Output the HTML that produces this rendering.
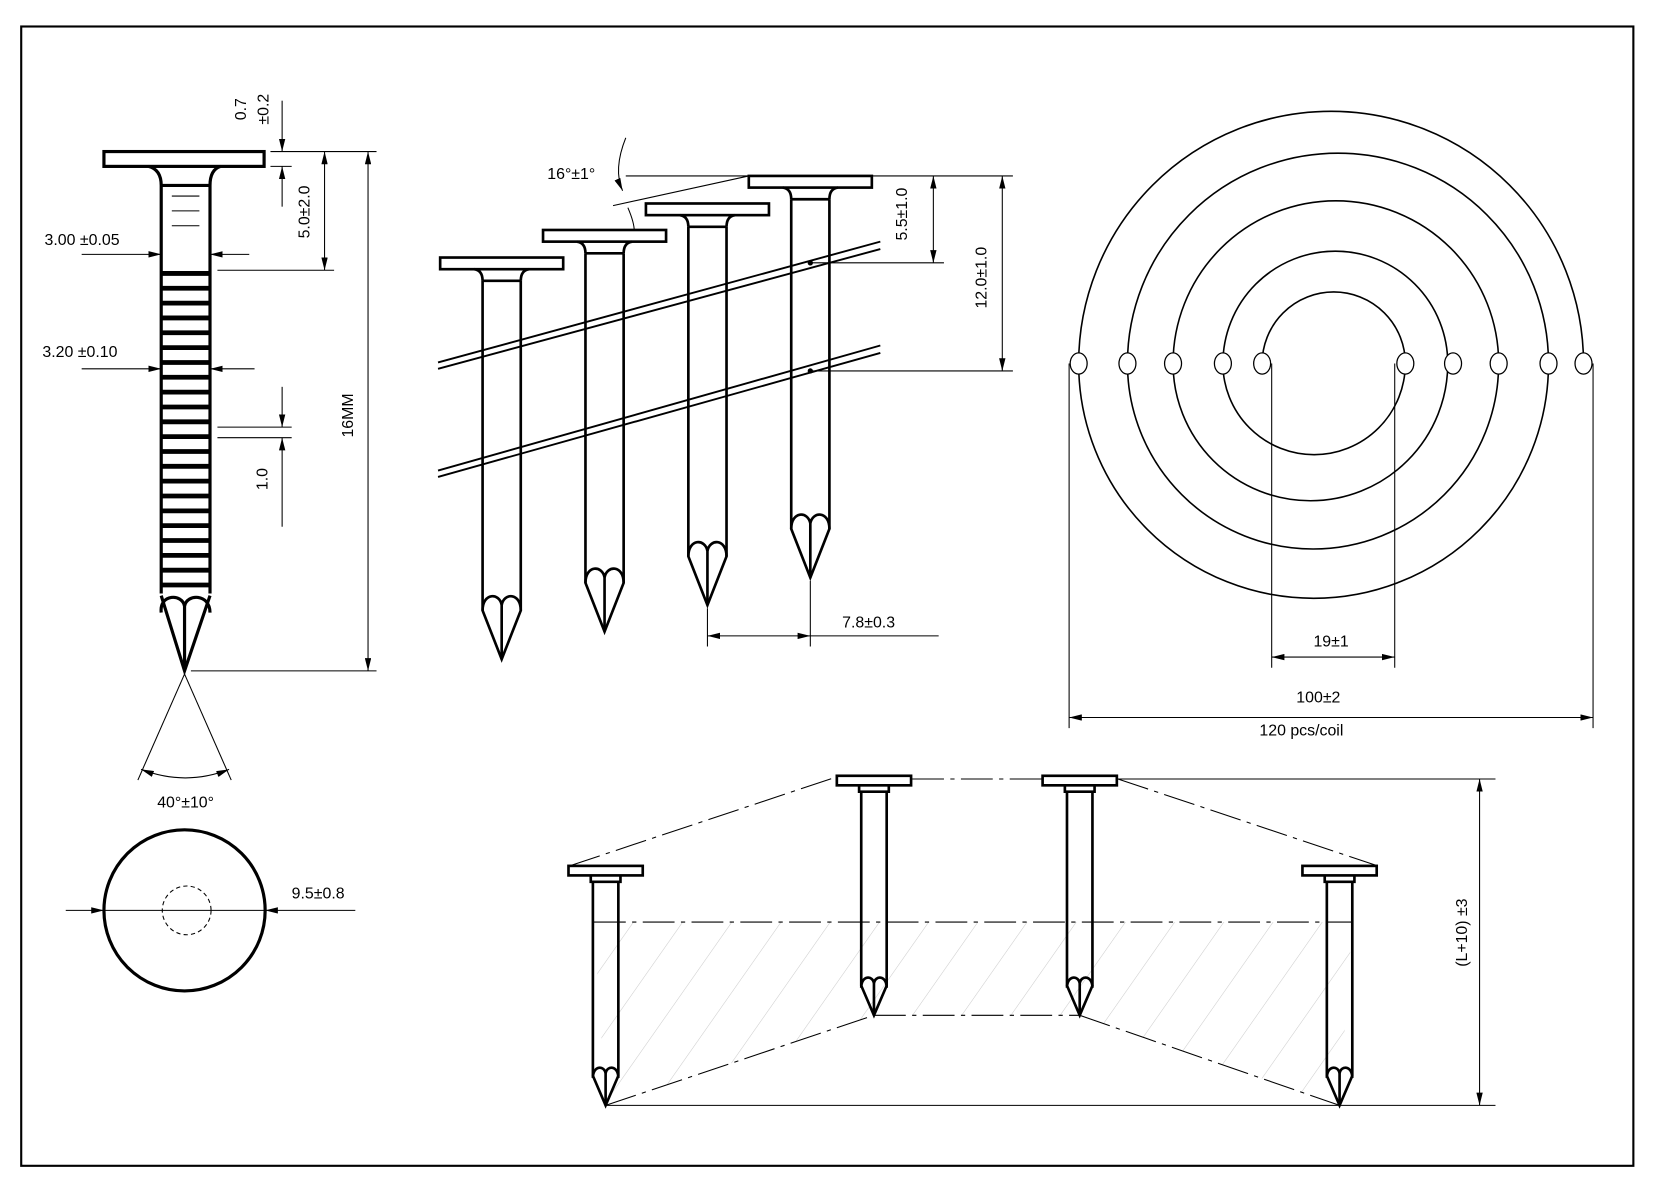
<!DOCTYPE html>
<html><head><meta charset="utf-8"><style>html,body{margin:0;padding:0;background:#fff}svg{display:block}text{font-family:"Liberation Sans",sans-serif;font-size:15px;fill:#000}</style></head><body>
<svg width="1662" height="1187" viewBox="0 0 1567 1120" preserveAspectRatio="none" xmlns="http://www.w3.org/2000/svg">
<defs>
<marker id="a" viewBox="0 0 12 6" refX="12" refY="3" markerWidth="12" markerHeight="6" markerUnits="userSpaceOnUse" orient="auto-start-reverse"><path d="M0,0L12,3L0,6z" fill="#000"/></marker>
<g id="mn" fill="none" stroke="#000" stroke-width="2.5">
<rect x="-58" y="0" width="116" height="11" fill="#fff"/>
<path d="M-26,11 Q-18,12 -18,22 M26,11 Q18,12 18,22 M-18,22 H18"/>
<path d="M-18,22 V333 L0,379 L18,333 V22"/>
<path d="M-18,333 C-18,316 -2,316 0,328 C2,316 18,316 18,333 M0,328 V379"/>
</g>
<g id="bn" fill="none" stroke="#000" stroke-width="2.5">
<rect x="-35" y="0" width="70" height="9" fill="#fff"/>
<path d="M-14,9 V15 H14 V9 M-12,15 V198 L0,226 L12,198 V15"/>
<path d="M-12,200 C-12,188 -1,188 0,196 C1,188 12,188 12,200 M0,196 V226"/>
</g>
<pattern id="h" width="38" height="38" patternUnits="userSpaceOnUse" patternTransform="rotate(35)"><line x1="0" y1="0" x2="0" y2="38" stroke="#ccc" stroke-width="1"/></pattern>
</defs>
<rect x="20" y="25" width="1520" height="1075" fill="none" stroke="#000" stroke-width="2"/>

<!-- left nail -->
<g fill="none" stroke="#000" stroke-width="3">
<rect x="98" y="143" width="151" height="14" fill="#fff"/>
<path d="M140,157 Q152,160 152,175 V560 M208,157 Q198,160 198,175 V560 M152,175 H198"/>
<path d="M152,562 L174,633 L198,562 M152,578 C150,560 172,560 174,572 C176,560 198,560 198,578 M174,572 V633"/>
</g>
<g stroke="#000" stroke-width="1"><line x1="162" y1="185" x2="188" y2="185"/><line x1="162" y1="199" x2="188" y2="199"/><line x1="162" y1="213" x2="188" y2="213"/></g>
<g stroke="#000" stroke-width="4.5">
<line x1="152" y1="258" x2="198" y2="258"/><line x1="152" y1="272" x2="198" y2="272"/><line x1="152" y1="286" x2="198" y2="286"/><line x1="152" y1="300" x2="198" y2="300"/><line x1="152" y1="314" x2="198" y2="314"/><line x1="152" y1="328" x2="198" y2="328"/><line x1="152" y1="342" x2="198" y2="342"/><line x1="152" y1="356" x2="198" y2="356"/><line x1="152" y1="370" x2="198" y2="370"/><line x1="152" y1="384" x2="198" y2="384"/><line x1="152" y1="398" x2="198" y2="398"/><line x1="152" y1="412" x2="198" y2="412"/><line x1="152" y1="426" x2="198" y2="426"/><line x1="152" y1="440" x2="198" y2="440"/><line x1="152" y1="454" x2="198" y2="454"/><line x1="152" y1="468" x2="198" y2="468"/><line x1="152" y1="482" x2="198" y2="482"/><line x1="152" y1="496" x2="198" y2="496"/><line x1="152" y1="510" x2="198" y2="510"/><line x1="152" y1="524" x2="198" y2="524"/><line x1="152" y1="538" x2="198" y2="538"/><line x1="152" y1="552" x2="198" y2="552"/>
</g>
<g fill="none" stroke="#000" stroke-width="1">
<line x1="255" y1="143" x2="355" y2="143"/><line x1="180" y1="633" x2="355" y2="633"/>
<line x1="347" y1="143" x2="347" y2="633" marker-start="url(#a)" marker-end="url(#a)"/>
<line x1="205" y1="255" x2="315" y2="255"/>
<line x1="306" y1="143" x2="306" y2="255" marker-start="url(#a)" marker-end="url(#a)"/>
<line x1="255" y1="157" x2="275" y2="157"/>
<line x1="266" y1="95" x2="266" y2="143" marker-end="url(#a)"/><line x1="266" y1="195" x2="266" y2="157" marker-end="url(#a)"/>
<line x1="77" y1="240" x2="152" y2="240" marker-end="url(#a)"/><line x1="235" y1="240" x2="198" y2="240" marker-end="url(#a)"/>
<line x1="77" y1="348" x2="152" y2="348" marker-end="url(#a)"/><line x1="240" y1="348" x2="198" y2="348" marker-end="url(#a)"/>
<line x1="205" y1="403" x2="275" y2="403"/><line x1="205" y1="413" x2="275" y2="413"/>
<line x1="266" y1="365" x2="266" y2="403" marker-end="url(#a)"/><line x1="266" y1="497" x2="266" y2="413" marker-end="url(#a)"/>
<line x1="174" y1="636" x2="130" y2="736"/><line x1="174" y1="636" x2="218" y2="736"/>
<path d="M133,726 Q175,742 216,726" marker-start="url(#a)" marker-end="url(#a)"/>
</g>
<text x="333" y="392" transform="rotate(-90 333 392)" text-anchor="middle">16MM</text>
<text x="292" y="200" transform="rotate(-90 292 200)" text-anchor="middle">5.0±2.0</text>
<text x="232" y="103" transform="rotate(-90 232 103)" text-anchor="middle">0.7</text>
<text x="253" y="103" transform="rotate(-90 253 103)" text-anchor="middle">±0.2</text>
<text x="252" y="452" transform="rotate(-90 252 452)" text-anchor="middle">1.0</text>
<text x="42" y="231">3.00 ±0.05</text>
<text x="40" y="337">3.20 ±0.10</text>
<text x="175" y="762" text-anchor="middle">40°±10°</text>
<circle cx="174" cy="859" r="76" fill="none" stroke="#000" stroke-width="3"/>
<circle cx="176" cy="859" r="23" fill="none" stroke="#000" stroke-width="1" stroke-dasharray="4,3"/>
<line x1="62" y1="859" x2="98" y2="859" stroke="#000" marker-end="url(#a)"/>
<line x1="98" y1="859" x2="250" y2="859" stroke="#000"/>
<line x1="335" y1="859" x2="250" y2="859" stroke="#000" marker-end="url(#a)"/>
<text x="275" y="848">9.5±0.8</text>

<!-- middle collated nails -->
<g fill="none" stroke="#000" stroke-width="1.8">
<path d="M413,342 L830,228 M413,348 L830,235"/>
<path d="M413,444 L830,326 M413,450 L830,333"/>
</g>
<use href="#mn" x="473" y="243"/>
<use href="#mn" x="570" y="217"/>
<use href="#mn" x="667" y="192"/>
<use href="#mn" x="764" y="166"/>
<circle cx="764" cy="248" r="2.5"/><circle cx="764" cy="350" r="2.5"/>
<g fill="none" stroke="#000" stroke-width="1">
<line x1="590" y1="166" x2="706" y2="166"/><line x1="578" y1="194" x2="706" y2="166"/>
<path d="M590,130 Q578,160 587,180" marker-end="url(#a)"/>
<path d="M592,196 Q598,210 598,218" />
<line x1="822" y1="166" x2="955" y2="166"/><line x1="766" y1="248" x2="890" y2="248"/><line x1="766" y1="350" x2="955" y2="350"/>
<line x1="880" y1="166" x2="880" y2="248" marker-start="url(#a)" marker-end="url(#a)"/>
<line x1="945" y1="166" x2="945" y2="350" marker-start="url(#a)" marker-end="url(#a)"/>
<line x1="667" y1="574" x2="667" y2="610"/><line x1="764" y1="548" x2="764" y2="610"/>
<line x1="667" y1="600" x2="764" y2="600" marker-start="url(#a)" marker-end="url(#a)"/>
<line x1="764" y1="600" x2="885" y2="600"/>
</g>
<text x="516" y="169">16°±1°</text>
<text x="855" y="202" transform="rotate(-90 855 202)" text-anchor="middle">5.5±1.0</text>
<text x="930" y="262" transform="rotate(-90 930 262)" text-anchor="middle">12.0±1.0</text>
<text x="794" y="592">7.8±0.3</text>

<!-- coil -->
<g fill="none" stroke="#000" stroke-width="1.5">
<path d="M1493,343 A238,238 0 0 0 1017,343 A221.5,221.5 0 0 0 1460,343 A198.5,198.5 0 0 0 1063,343 A175,175 0 0 0 1413,343 A153.5,153.5 0 0 0 1106,343 A129.5,129.5 0 0 0 1365,343 A106,106 0 0 0 1153,343 A86,86 0 0 0 1325,343 A67.5,67.5 0 0 0 1190,343"/>
<g stroke-width="1.2" fill="#fff">
<ellipse cx="1017" cy="343" rx="8" ry="10"/><ellipse cx="1063" cy="343" rx="8" ry="10"/><ellipse cx="1106" cy="343" rx="8" ry="10"/><ellipse cx="1153" cy="343" rx="8" ry="10"/><ellipse cx="1190" cy="343" rx="8" ry="10"/><ellipse cx="1325" cy="343" rx="8" ry="10"/><ellipse cx="1370" cy="343" rx="8" ry="10"/><ellipse cx="1413" cy="343" rx="8" ry="10"/><ellipse cx="1460" cy="343" rx="8" ry="10"/><ellipse cx="1493" cy="343" rx="8" ry="10"/>
</g>
</g>
<g stroke="#000" stroke-width="1" fill="none">
<line x1="1199" y1="343" x2="1199" y2="630"/><line x1="1315" y1="343" x2="1315" y2="630"/>
<line x1="1199" y1="620" x2="1315" y2="620" marker-start="url(#a)" marker-end="url(#a)"/>
<line x1="1008" y1="343" x2="1008" y2="687"/><line x1="1502" y1="343" x2="1502" y2="687"/>
<line x1="1008" y1="677" x2="1502" y2="677" marker-start="url(#a)" marker-end="url(#a)"/>
</g>
<text x="1255" y="610" text-anchor="middle">19±1</text>
<text x="1243" y="663" text-anchor="middle">100±2</text>
<text x="1227" y="694" text-anchor="middle">120 pcs/coil</text>

<!-- bottom -->
<polygon points="560,870 1275,870 1263,1043 571,1043" fill="url(#h)"/>
<polygon points="571,1043 824,958 1018,958 1263,1043" fill="#fff"/>
<g stroke="#000" stroke-width="1" fill="none" stroke-dasharray="30,6,4,6">
<line x1="537" y1="817" x2="789" y2="733"/><line x1="860" y1="735" x2="983" y2="735"/><line x1="1054" y1="735" x2="1299" y2="817"/>
<line x1="571" y1="1043" x2="824" y2="958"/><line x1="824" y1="958" x2="1018" y2="958"/><line x1="1018" y1="958" x2="1263" y2="1043"/>
<line x1="560" y1="870" x2="1275" y2="870"/>
</g>
<g stroke="#000" stroke-width="1">
<line x1="1054" y1="735" x2="1410" y2="735"/><line x1="571" y1="1043" x2="1410" y2="1043"/>
<line x1="1395" y1="735" x2="1395" y2="1043" marker-start="url(#a)" marker-end="url(#a)"/>
</g>
<use href="#bn" x="571" y="817"/>
<use href="#bn" x="824" y="732"/>
<use href="#bn" x="1018" y="732"/>
<use href="#bn" x="1263" y="817"/>
<text x="1383" y="880" transform="rotate(-90 1383 880)" text-anchor="middle">(L+10) ±3</text>
</svg>
</body></html>
